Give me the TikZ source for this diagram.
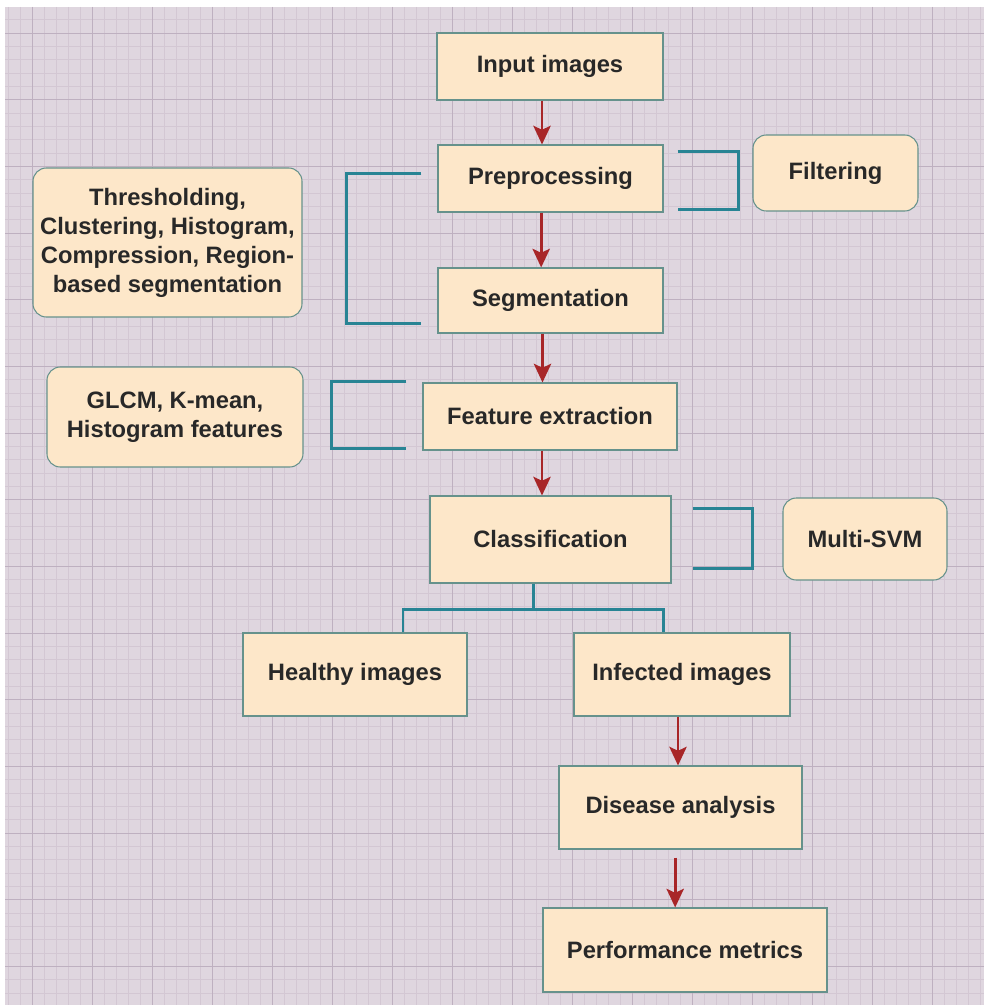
\documentclass[tikz,border=0pt]{standalone}
\usepackage{fontspec}
\setmainfont{Liberation Sans}
\usetikzlibrary{arrows.meta}
\definecolor{gridbg}{RGB}{223,214,223}
\definecolor{gridminor}{RGB}{211,199,211}
\definecolor{gridmajor}{RGB}{190,176,192}
\definecolor{boxfill}{RGB}{253,231,201}
\definecolor{boxline}{RGB}{102,146,140}
\definecolor{linkteal}{RGB}{40,132,148}
\definecolor{arrowred}{RGB}{168,38,40}
\definecolor{textdark}{RGB}{40,40,40}

\begin{document}
\begin{tikzpicture}[x=0.75pt, y=-0.75pt, every node/.style={font=\fontsize{17.8}{21.75}\selectfont\bfseries, text=textdark}, box/.style={draw=boxline, line width=0.8pt, fill=boxfill, inner sep=0pt, align=center}, rbox/.style={box, rounded corners=10pt}, arr/.style={draw=arrowred, line width=2pt, -{Stealth[length=14pt, width=13pt, inset=3pt]}}, brk/.style={draw=linkteal, line width=2.2pt}, minor/.style={gridminor, line width=0.4pt}, major/.style={gridmajor, line width=0.7pt}]
	\useasboundingbox (0,0) rectangle (984,1005);
	\begin{scope}
		\clip (5,7) rectangle (984,1005);
		\fill[gridbg] (5,7) rectangle (984,1005);
		\foreach \k in {-2,...,79} \draw[minor] ({32+12*\k},7) -- ({32+12*\k},1005);
		\foreach \k in {-1,...,73} \draw[minor] (5,{33+13.333*\k}) -- (984,{33+13.333*\k});
		\foreach \k in {0,...,15} \draw[major] ({32+60*\k},7) -- ({32+60*\k},1005);
		\foreach \k in {0,...,14} \draw[major] (5,{33+66.667*\k}) -- (984,{33+66.667*\k});
	\end{scope}
	\node[box, minimum width=169.5pt, minimum height=50.25pt] (in) at (550,66.5) {Input images};
	\node[box, minimum width=168.75pt, minimum height=50.25pt] (pre) at (550.5,178.5) {Preprocessing};
	\node[box, minimum width=168.75pt, minimum height=48.75pt] (seg) at (550.5,300.5) {Segmentation};
	\node[box, minimum width=190.5pt, minimum height=50.25pt] (feat) at (550,416.5) {Feature extraction};
	\node[box, minimum width=180.75pt, minimum height=65.25pt] (cls) at (550.5,539.5) {Classification};
	\node[box, minimum width=168pt, minimum height=62.25pt] (healthy) at (355,674.5) {Healthy images};
	\node[box, minimum width=162pt, minimum height=62.25pt] (infected) at (682,674.5) {Infected images};
	\node[box, minimum width=182.25pt, minimum height=62.25pt] (disease) at (680.5,807.5) {Disease analysis};
	\node[box, minimum width=213pt, minimum height=63pt] (perf) at (685,950) {Performance metrics};
	\node[rbox, minimum width=123.75pt, minimum height=57pt] (filt) at (835.5,173) {Filtering};
	\node[rbox, minimum width=201.75pt, minimum height=111.75pt] (thr) at (167.5,242.5) {Thresholding,\\Clustering, Histogram,\\Compression, Region-\\based segmentation};
	\node[rbox, minimum width=192pt, minimum height=75pt] (glcm) at (175,417) {GLCM, K-mean,\\Histogram features};
	\node[rbox, minimum width=123pt, minimum height=61.5pt] (svm) at (865,539) {Multi-SVM};
	\draw[arr] ([xshift=-6pt]in.south) -- ([xshift=-6pt]in.south |- pre.north);
	\draw[arr] ([xshift=-7pt]pre.south) -- ([xshift=-7pt]pre.south |- seg.north);
	\draw[arr] ([xshift=-6pt]seg.south) -- ([xshift=-6pt]seg.south |- feat.north);
	\draw[arr] ([xshift=-6pt]feat.south) -- ([xshift=-6pt]feat.south |- cls.north);
	\draw[arr] ([xshift=-3pt]infected.south) -- ([xshift=-3pt]infected.south |- disease.north);
	\draw[arr, shorten <=6pt] ([xshift=-4pt]disease.south) -- ([xshift=-4pt]disease.south |- perf.north);
	\draw[brk] ([shift={(14,7)}]pre.north east) -- ++(61,0) |- ([shift={(14,-3)}]pre.south east);
	\draw[brk] ([shift={(-16,29)}]pre.north west) -- ++(-75,0) |- ([shift={(-16,-10)}]seg.south west);
	\draw[brk] ([shift={(-16,-1)}]feat.north west) -- ++(-75,0) |- ([shift={(-16,-2)}]feat.south west);
	\draw[brk] ([shift={(21,13)}]cls.north east) -- ++(60,0) |- ([shift={(21,-15)}]cls.south east);
	\draw[brk] ([xshift=-13pt]cls.south) -- ++(0,26) coordinate (fork);
	\draw[brk] ([xshift=36pt]healthy.north) |- (fork) -| ([xshift=-14pt]infected.north);
\end{tikzpicture}
\end{document}
